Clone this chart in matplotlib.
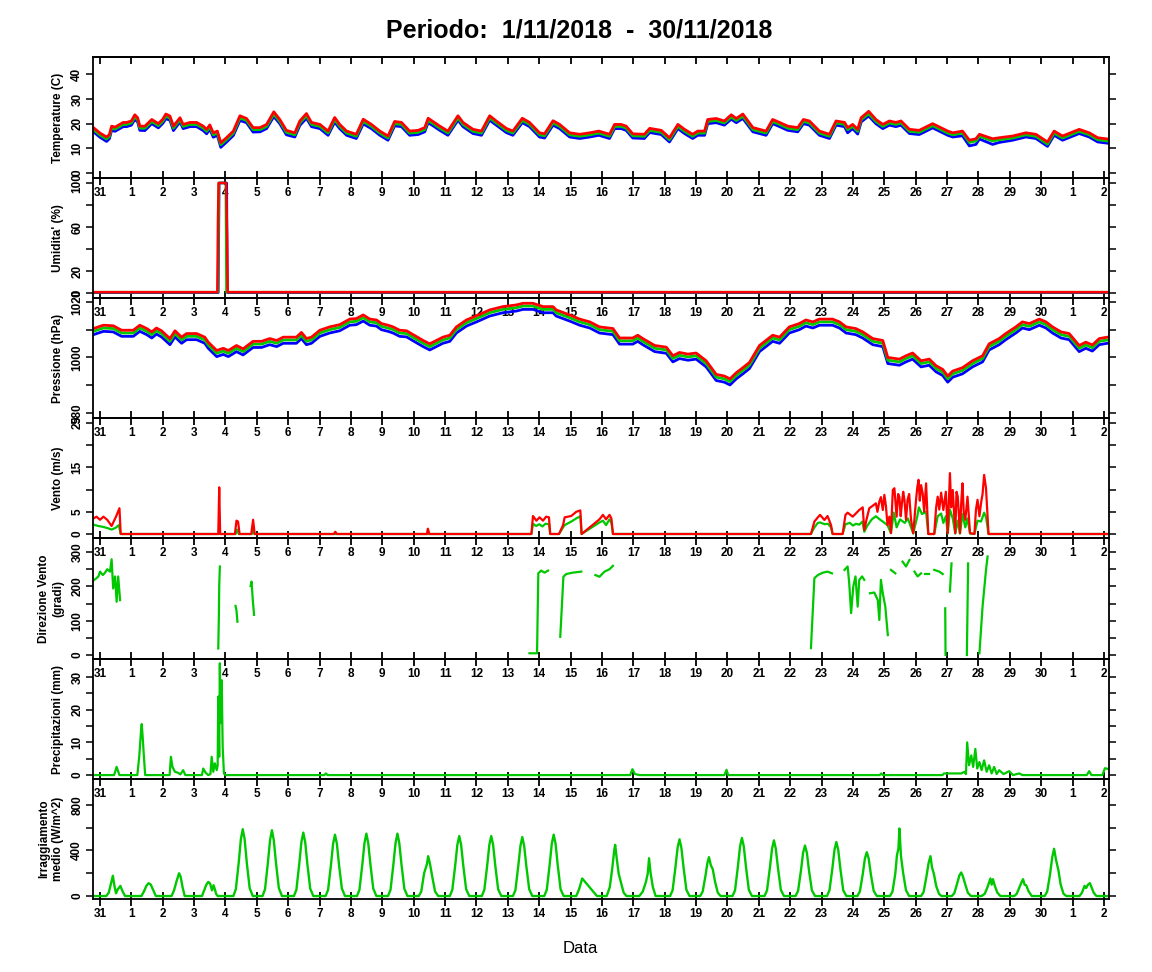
import numpy as np
import matplotlib
matplotlib.use("Agg")
import matplotlib.pyplot as plt
from matplotlib.ticker import FixedLocator

plt.rcParams['font.family'] = ['Liberation Sans', 'DejaVu Sans']
plt.rcParams['font.weight'] = 'bold'

# ---------------- data (time in days since 31/10/2018 00:00) ----------------
x_tick_pos = list(range(33))
x_tick_labels = ["31", "1", "2", "3", "4", "5", "6", "7", "8", "9", "10", "11", "12", "13",
                 "14", "15", "16", "17", "18", "19", "20", "21", "22", "23", "24", "25",
                 "26", "27", "28", "29", "30", "1", "2"]

t_temp = [-0.21, 0.0, 0.21, 0.30, 0.37, 0.48, 0.62, 0.74, 0.85, 1.0, 1.11, 1.2, 1.27, 1.43, 1.65,
          1.86, 2.0, 2.10, 2.23, 2.34, 2.55, 2.65, 2.87, 3.08, 3.29, 3.40, 3.50, 3.61, 3.74, 3.85,
          4.03, 4.25, 4.46, 4.67, 4.88, 5.10, 5.31, 5.54, 5.73, 5.94, 6.21, 6.37, 6.58, 6.74, 7.01,
          7.27, 7.48, 7.64, 7.86, 8.17, 8.39, 8.65, 8.92, 9.18, 9.39, 9.61, 9.87, 10.14, 10.35, 10.46,
          10.62, 10.83, 11.09, 11.41, 11.57, 11.89, 12.16, 12.42, 12.63, 12.95, 13.16, 13.46, 13.69,
          14.01, 14.17, 14.44, 14.65, 14.97, 15.29, 15.61, 15.90, 16.24, 16.40, 16.61, 16.77, 16.98,
          17.35, 17.52, 17.89, 18.15, 18.42, 18.63, 18.89, 19.05, 19.27, 19.37, 19.64, 19.90, 20.12,
          20.28, 20.49, 20.81, 21.23, 21.44, 21.66, 21.92, 22.24, 22.42, 22.61, 22.93, 23.25, 23.46,
          23.73, 23.83, 23.99, 24.15, 24.26, 24.50, 24.73, 24.95, 25.16, 25.37, 25.53, 25.80, 26.11,
          26.54, 26.80, 27.02, 27.18, 27.49, 27.71, 27.92, 28.03, 28.45, 28.66, 29.09, 29.51, 29.83,
          30.20, 30.41, 30.68, 31.21, 31.53, 31.80, 32.11]
temp_mean = [17.6, 15.4, 13.8, 14.8, 18.2, 17.8, 18.8, 19.7, 19.7, 20.3,
             22.7, 21.6, 18.2, 18.2, 20.9, 19.2, 21.0, 23.0, 22.3, 18.2,
             21.6, 18.9, 19.7, 19.7, 18.2, 16.9, 18.7, 15.5, 16.2, 11.5,
             13.5, 16.2, 22.3, 21.3, 17.6, 17.6, 18.9, 23.9, 20.9, 16.5,
             15.5, 20.3, 23.2, 19.7, 18.9, 16.2, 21.6, 18.9, 16.2, 14.9,
             20.9, 18.9, 16.2, 14.2, 20.0, 19.7, 16.2, 16.5, 17.6, 21.3,
             20.0, 18.2, 16.2, 22.3, 19.7, 16.9, 16.2, 22.3, 20.3, 17.3,
             16.2, 21.3, 19.7, 15.5, 15.1, 20.3, 18.9, 15.5, 14.9, 15.5,
             16.2, 14.9, 18.9, 18.9, 18.2, 15.1, 14.9, 17.3, 16.5, 13.5,
             18.9, 16.9, 14.9, 16.2, 16.2, 20.9, 21.3, 20.3, 22.7, 21.3,
             23.0, 17.6, 16.2, 20.9, 19.7, 18.2, 17.6, 20.9, 20.3, 16.2,
             14.9, 20.3, 19.7, 17.6, 18.9, 16.9, 21.6, 24.0, 20.9, 18.9,
             20.3, 19.7, 20.3, 16.9, 16.5, 19.2, 17.6, 16.2, 15.5, 16.2,
             12.4, 13.0, 14.9, 13.0, 13.5, 14.2, 15.5, 14.9, 11.7, 16.2,
             14.2, 16.9, 15.5, 13.5, 13.0]
temp_max = [18.4, 16.2, 14.6, 15.6, 19.0, 18.6, 19.6, 20.5, 20.5, 21.1,
            23.6, 22.4, 19.0, 19.0, 21.7, 20.0, 21.8, 23.9, 23.1, 19.0,
            22.4, 19.7, 20.5, 20.5, 19.0, 17.7, 19.5, 16.3, 17.0, 12.3,
            14.3, 17.0, 23.2, 22.1, 18.4, 18.4, 19.7, 24.8, 21.7, 17.3,
            16.3, 21.1, 24.1, 20.5, 19.7, 17.0, 22.5, 19.7, 17.0, 15.7,
            21.8, 19.7, 17.0, 15.0, 20.9, 20.5, 17.0, 17.3, 18.4, 22.2,
            20.8, 19.0, 17.0, 23.2, 20.5, 17.7, 17.0, 23.2, 21.1, 18.1,
            17.0, 22.2, 20.5, 16.3, 15.9, 21.2, 19.7, 16.3, 15.7, 16.3,
            17.0, 15.7, 19.7, 19.7, 19.0, 15.9, 15.7, 18.1, 17.3, 14.3,
            19.7, 17.7, 15.7, 17.0, 17.0, 21.7, 22.1, 21.1, 23.6, 22.1,
            23.9, 18.4, 17.0, 21.7, 20.5, 19.0, 18.4, 21.7, 21.1, 17.0,
            15.7, 21.1, 20.5, 18.4, 19.7, 17.7, 22.4, 25.0, 21.7, 19.7,
            21.1, 20.5, 21.1, 17.7, 17.3, 20.0, 18.4, 17.0, 16.3, 17.0,
            13.3, 13.9, 15.7, 13.9, 14.3, 15.0, 16.3, 15.7, 12.6, 17.0,
            15.0, 17.7, 16.3, 14.3, 13.8]
temp_min = [16.7, 14.5, 12.8, 13.9, 17.3, 16.9, 17.9, 18.8, 18.8, 19.4,
            21.7, 20.7, 17.3, 17.2, 20.0, 18.3, 20.1, 22.0, 21.4, 17.2,
            20.7, 18.0, 18.8, 18.8, 17.2, 15.9, 17.8, 14.5, 15.3, 10.4,
            12.5, 15.2, 21.3, 20.4, 16.6, 16.7, 18.0, 22.9, 20.0, 15.5,
            14.6, 19.3, 22.2, 18.8, 18.0, 15.3, 20.6, 18.0, 15.3, 14.0,
            19.9, 18.0, 15.3, 13.3, 19.1, 18.8, 15.3, 15.6, 16.7, 20.4,
            19.1, 17.3, 15.3, 21.4, 18.8, 16.0, 15.3, 21.4, 19.4, 16.4,
            15.3, 20.4, 18.8, 14.6, 14.2, 19.4, 18.0, 14.6, 14.0, 14.6,
            15.3, 14.0, 18.0, 18.0, 17.3, 14.2, 14.0, 16.4, 15.6, 12.6,
            18.0, 16.0, 14.0, 15.3, 15.3, 20.0, 20.4, 19.4, 21.8, 20.4,
            22.1, 16.7, 15.3, 20.0, 18.8, 17.3, 16.7, 20.0, 19.4, 15.3,
            14.0, 19.4, 18.8, 16.3, 18.0, 15.8, 20.7, 23.1, 20.0, 18.0,
            19.4, 18.8, 19.4, 16.0, 15.6, 18.3, 16.7, 15.3, 14.6, 15.1,
            11.0, 11.6, 13.8, 11.6, 12.4, 13.3, 14.6, 14.0, 10.8, 15.3,
            13.3, 16.0, 14.6, 12.6, 12.1]

hum_max = [(-0.21, 1), (3.74, 1), (3.76, 65), (3.78, 100), (4.02, 100), (4.05, 50), (4.07, 1), (32.16, 1)]
hum_mean = [(-0.21, 1), (3.76, 1), (3.79, 100), (4.01, 100), (4.03, 1), (32.16, 1)]
hum_min = [(-0.21, 0.5), (3.77, 0.5), (3.80, 100), (4.04, 100), (4.06, 0.5), (32.16, 0.5)]

t_pres = [-0.21, 0.11, 0.42, 0.69, 1.06, 1.27, 1.49, 1.65, 1.80, 1.96,
          2.23, 2.39, 2.60, 2.76, 3.08, 3.34, 3.45, 3.72, 3.93, 4.09,
          4.35, 4.56, 4.88, 5.15, 5.41, 5.63, 5.84, 6.26, 6.42, 6.58,
          6.74, 7.01, 7.32, 7.64, 7.96, 8.17, 8.39, 8.60, 8.81, 8.97,
          9.18, 9.34, 9.55, 9.77, 9.98, 10.30, 10.51, 10.72, 10.93, 11.15,
          11.36, 11.68, 12.00, 12.42, 12.84, 13.27, 13.48, 13.80, 14.12, 14.44,
          14.54, 14.97, 15.29, 15.61, 15.92, 16.35, 16.56, 16.98, 17.14, 17.30,
          17.68, 18.05, 18.26, 18.47, 18.74, 19.00, 19.32, 19.64, 19.90, 20.08,
          20.28, 20.49, 20.70, 21.02, 21.44, 21.66, 21.97, 22.29, 22.50, 22.72,
          22.93, 23.35, 23.57, 23.78, 24.09, 24.31, 24.63, 24.95, 25.11, 25.48,
          25.69, 25.90, 26.17, 26.43, 26.65, 26.86, 27.02, 27.18, 27.49, 27.81,
          28.13, 28.34, 28.66, 28.87, 29.19, 29.40, 29.62, 29.94, 30.15, 30.36,
          30.63, 30.89, 31.21, 31.42, 31.63, 31.85, 32.11]
pres_mean = [1009.4, 1010.6, 1010.4, 1008.8, 1008.8, 1010.6, 1009.4, 1008.2, 1009.6, 1008.6,
             1005.8, 1008.6, 1006.3, 1007.6, 1007.6, 1006.3, 1004.5, 1001.5, 1002.3, 1001.5,
             1003.3, 1002.1, 1004.8, 1004.8, 1005.8, 1005.1, 1006.3, 1006.3, 1008.0, 1005.8,
             1006.3, 1008.8, 1010.0, 1010.8, 1012.8, 1013.0, 1014.3, 1012.8, 1012.5, 1011.2,
             1010.6, 1010.0, 1008.8, 1008.6, 1007.2, 1005.1, 1003.9, 1005.1, 1006.3, 1007.0,
             1010.0, 1012.5, 1014.0, 1016.1, 1017.3, 1017.9, 1018.5, 1018.5, 1017.3, 1017.3,
             1016.1, 1014.3, 1012.8, 1011.8, 1010.0, 1009.4, 1006.0, 1006.0, 1007.0, 1005.8,
             1003.3, 1002.7, 999.6, 1000.8, 1000.2, 1000.6, 997.8, 992.9, 992.3, 991.3,
             993.5, 995.3, 997.2, 1003.3, 1007.0, 1006.3, 1010.0, 1011.2, 1012.5, 1011.8,
             1012.8, 1012.8, 1011.8, 1010.0, 1009.4, 1008.2, 1005.8, 1005.1, 999.0, 998.4,
             999.6, 1000.6, 997.8, 998.4, 996.0, 994.7, 992.3, 994.1, 995.3, 997.8,
             999.6, 1003.9, 1005.8, 1007.6, 1010.0, 1011.8, 1011.2, 1012.8, 1011.8, 1010.0,
             1008.2, 1007.6, 1003.3, 1004.5, 1003.5, 1005.8, 1006.3]
pres_max = [1010.4, 1011.6, 1011.4, 1009.8, 1009.8, 1011.6, 1010.4, 1009.2, 1010.6, 1009.6,
            1006.8, 1009.6, 1007.3, 1008.6, 1008.6, 1007.3, 1005.5, 1002.5, 1003.3, 1002.5,
            1004.3, 1003.1, 1005.8, 1005.8, 1006.8, 1006.1, 1007.3, 1007.3, 1009.0, 1006.8,
            1007.3, 1009.8, 1011.0, 1011.8, 1013.8, 1014.0, 1015.3, 1013.8, 1013.5, 1012.2,
            1011.6, 1011.0, 1009.8, 1009.6, 1008.2, 1006.1, 1004.9, 1006.1, 1007.3, 1008.0,
            1011.0, 1013.5, 1015.0, 1017.1, 1018.3, 1018.9, 1019.5, 1019.5, 1018.3, 1018.3,
            1017.1, 1015.3, 1013.8, 1012.8, 1011.0, 1010.4, 1007.0, 1007.0, 1008.0, 1006.8,
            1004.3, 1003.7, 1000.6, 1001.8, 1001.2, 1001.6, 998.8, 993.9, 993.3, 992.3,
            994.5, 996.3, 998.2, 1004.3, 1008.0, 1007.3, 1011.0, 1012.2, 1013.5, 1012.8,
            1013.8, 1013.8, 1012.8, 1011.0, 1010.4, 1009.2, 1006.8, 1006.1, 1000.0, 999.4,
            1000.6, 1001.6, 998.8, 999.4, 997.0, 995.7, 993.3, 995.1, 996.3, 998.8,
            1000.6, 1004.9, 1006.8, 1008.6, 1011.0, 1012.8, 1012.2, 1013.8, 1012.8, 1011.0,
            1009.2, 1008.6, 1004.3, 1005.5, 1004.5, 1006.8, 1007.3]
pres_min = [1008.2, 1009.4, 1009.2, 1007.6, 1007.6, 1009.4, 1008.2, 1007.0, 1008.4, 1007.4,
            1004.6, 1007.4, 1005.1, 1006.4, 1006.4, 1005.1, 1003.3, 1000.3, 1001.1, 1000.3,
            1002.1, 1000.9, 1003.6, 1003.6, 1004.6, 1003.9, 1005.1, 1005.1, 1006.8, 1004.6,
            1005.1, 1007.6, 1008.8, 1009.6, 1011.6, 1011.8, 1013.1, 1011.6, 1011.3, 1010.0,
            1009.4, 1008.8, 1007.6, 1007.4, 1006.0, 1003.9, 1002.7, 1003.9, 1005.1, 1005.8,
            1008.8, 1011.3, 1012.8, 1014.9, 1016.1, 1016.7, 1017.3, 1017.3, 1016.1, 1016.1,
            1014.9, 1013.1, 1011.6, 1010.6, 1008.8, 1008.2, 1004.8, 1004.8, 1005.8, 1004.6,
            1002.1, 1001.5, 998.4, 999.6, 999.0, 999.4, 996.6, 991.7, 991.1, 990.1,
            992.3, 994.1, 996.0, 1002.1, 1005.8, 1005.1, 1008.8, 1010.0, 1011.3, 1010.6,
            1011.6, 1011.6, 1010.6, 1008.8, 1008.2, 1007.0, 1004.6, 1003.9, 997.8, 997.2,
            998.4, 999.4, 996.6, 997.2, 994.8, 993.5, 991.1, 992.9, 994.1, 996.6,
            998.4, 1002.7, 1004.6, 1006.4, 1008.8, 1010.6, 1010.0, 1011.6, 1010.6, 1008.8,
            1007.0, 1006.4, 1002.1, 1003.3, 1002.3, 1004.6, 1005.1]

wind_max = [(-0.21, 3.5), (-0.11, 3.9), (0.0, 3.2), (0.11, 3.9), (0.23, 3.2), (0.37, 1.8), (0.51, 3.9),
            (0.62, 5.8), (0.66, 0), (3.77, 0), (3.80, 10.5), (3.83, 0), (4.30, 0), (4.35, 3.0), (4.40, 2.8),
            (4.45, 0), (4.82, 0), (4.88, 3.2), (4.93, 0), (7.45, 0), (7.50, 0.5), (7.55, 0), (10.42, 0),
            (10.45, 1.2), (10.50, 0), (13.75, 0), (13.80, 4.05), (13.91, 3.0), (14.01, 3.75), (14.12, 3.0),
            (14.22, 3.9), (14.31, 3.75), (14.35, 0), (14.63, 0), (14.76, 2.0), (14.81, 3.75), (15.02, 4.05),
            (15.18, 5.0), (15.31, 5.3), (15.35, 0), (15.92, 3.3), (16.03, 4.3), (16.13, 3.3), (16.24, 4.3),
            (16.30, 3.5), (16.35, 0), (22.66, 0), (22.77, 2.8), (22.88, 3.75), (22.95, 4.3), (23.09, 3.15),
            (23.19, 4.05), (23.30, 2.0), (23.35, 0), (23.67, 0), (23.76, 4.3), (23.83, 4.8), (23.99, 3.9),
            (24.10, 4.7), (24.20, 5.4), (24.31, 6.0), (24.36, 0.9), (24.43, 3.2), (24.52, 5.8), (24.62, 6.3),
            (24.73, 6.9), (24.78, 5.0), (24.84, 7.3), (24.89, 8.3), (24.95, 5.4), (25.00, 8.8), (25.05, 6.3),
            (25.10, 2.0), (25.16, 3.9), (25.21, 0.2), (25.27, 9.9), (25.32, 10.3), (25.39, 3.9), (25.44, 9.0),
            (25.48, 8.3), (25.52, 4.0), (25.56, 6.9), (25.60, 9.5), (25.64, 7.7), (25.69, 3.2), (25.74, 7.7),
            (25.79, 9.0), (25.85, 3.2), (25.92, 0.2), (26.01, 7.7), (26.05, 10.5), (26.09, 12.2), (26.13, 7.5),
            (26.17, 11.0), (26.22, 9.2), (26.27, 5.0), (26.33, 11.4), (26.40, 0), (26.59, 0), (26.65, 6.0),
            (26.70, 8.4), (26.75, 5.5), (26.81, 9.3), (26.88, 5.4), (26.96, 9.5), (27.02, 0.2), (27.06, 8.0),
            (27.09, 13.7), (27.13, 6.0), (27.18, 9.9), (27.22, 5.0), (27.26, 0.2), (27.30, 9.5), (27.34, 8.4),
            (27.41, 0.2), (27.45, 7.0), (27.49, 11.4), (27.53, 5.0), (27.58, 3.2), (27.65, 8.4), (27.73, 0.2),
            (27.87, 0), (27.92, 5.5), (27.97, 7.7), (28.03, 4.0), (28.08, 6.9), (28.13, 9.0), (28.18, 13.3),
            (28.24, 10.3), (28.32, 0), (32.16, 0)]
wind_mean = [(-0.21, 2.1), (-0.05, 1.8), (0.10, 1.6), (0.25, 1.3), (0.37, 1.0), (0.50, 1.4), (0.60, 2.0),
             (0.66, 0), (3.78, 0), (3.80, 1.0), (3.82, 0), (4.32, 0), (4.37, 1.0), (4.42, 0), (4.84, 0),
             (4.88, 1.6), (4.92, 0), (13.75, 0), (13.80, 2.3), (13.90, 1.8), (14.00, 2.2), (14.10, 1.7),
             (14.20, 2.3), (14.31, 2.2), (14.35, 0), (14.63, 0), (14.76, 1.5), (14.81, 2.0), (15.02, 2.8),
             (15.18, 3.5), (15.31, 4.0), (15.35, 0), (15.92, 2.6), (16.03, 3.0), (16.13, 2.0), (16.24, 3.3),
             (16.30, 2.5), (16.35, 0), (22.66, 0), (22.77, 1.5), (22.88, 2.5), (22.95, 2.6), (23.10, 2.2),
             (23.20, 2.3), (23.30, 1.5), (23.35, 0), (23.67, 0), (23.76, 2.2), (23.90, 2.5), (24.00, 1.9),
             (24.10, 2.3), (24.20, 2.1), (24.30, 2.8), (24.36, 0.5), (24.45, 1.8), (24.60, 3.3), (24.73, 4.0),
             (24.85, 3.3), (24.95, 2.8), (25.10, 2.0), (25.21, 0.2), (25.30, 4.8), (25.39, 1.5), (25.50, 3.3),
             (25.65, 2.5), (25.75, 3.5), (25.85, 1.5), (25.92, 0.1), (26.05, 4.0), (26.10, 6.0), (26.20, 4.5),
             (26.33, 5.0), (26.40, 0), (26.59, 0), (26.70, 4.0), (26.81, 4.6), (26.88, 2.5), (26.96, 4.0),
             (27.02, 0.1), (27.09, 5.5), (27.18, 3.5), (27.26, 0.1), (27.34, 3.0), (27.41, 0.1), (27.49, 4.5),
             (27.58, 1.5), (27.65, 3.5), (27.73, 0.1), (27.87, 0), (27.97, 3.0), (28.08, 2.8), (28.18, 4.8),
             (28.24, 3.8), (28.32, 0), (32.16, 0)]

dir_segments = [
    [(-0.21, 217), (-0.11, 224), (-0.05, 229), (0.0, 243), (0.09, 233), (0.16, 240), (0.23, 250),
     (0.32, 243), (0.37, 279), (0.42, 194), (0.48, 229), (0.53, 155), (0.58, 229), (0.64, 160)],
    [(3.77, 19), (3.79, 120), (3.80, 200), (3.82, 258)],
    [(4.32, 143), (4.35, 130), (4.38, 97)],
    [(4.80, 201), (4.83, 214), (4.87, 160), (4.91, 117)],
    [(13.69, 5), (13.93, 5), (13.97, 238), (14.06, 246), (14.17, 240), (14.28, 246)],
    [(14.67, 53), (14.77, 228), (14.86, 236), (15.07, 240), (15.34, 243)],
    [(15.79, 233), (15.92, 228), (16.08, 243), (16.24, 250), (16.35, 260)],
    [(22.66, 20), (22.77, 224), (22.88, 233), (23.04, 240), (23.19, 243), (23.33, 238)],
    [(23.73, 248), (23.83, 258), (23.88, 209), (23.94, 122), (24.01, 200), (24.08, 229), (24.15, 141),
     (24.20, 219), (24.29, 229), (24.36, 219)],
    [(24.54, 180), (24.68, 182), (24.79, 160), (24.84, 102), (24.89, 219), (24.95, 180), (25.03, 141),
     (25.11, 58)],
    [(25.21, 248), (25.35, 238)],
    [(25.58, 272), (25.69, 258), (25.80, 277)],
    [(25.96, 243), (26.06, 229), (26.17, 238)],
    [(26.31, 236), (26.41, 236)],
    [(26.59, 248), (26.75, 243), (26.86, 236)],
    [(26.94, 136), (26.95, 0)],
    [(27.09, 185), (27.14, 267)],
    [(27.63, 0), (27.67, 267)],
    [(28.03, 5), (28.13, 141), (28.24, 248), (28.29, 287)],
]

rain = [(-0.21, 0), (0.45, 0), (0.53, 2.5), (0.62, 0), (1.19, 0), (1.25, 5.6), (1.31, 13.8), (1.33, 15.6),
        (1.36, 11.7), (1.40, 5.6), (1.44, 0), (2.22, 0), (2.26, 5.6), (2.31, 2.5), (2.39, 1.0), (2.49, 0.7),
        (2.56, 0.2), (2.65, 1.5), (2.72, 0), (3.25, 0), (3.29, 2.0), (3.37, 0.7), (3.45, 0), (3.52, 0.3),
        (3.56, 5.6), (3.61, 1.0), (3.66, 3.6), (3.72, 1.5), (3.75, 3.0), (3.77, 24.0), (3.80, 5.6),
        (3.82, 34.2), (3.84, 15.9), (3.88, 29.0), (3.91, 8.7), (3.95, 0.5), (4.00, 0), (7.15, 0), (7.20, 0.5),
        (7.25, 0), (16.90, 0), (16.97, 1.8), (17.05, 0.3), (17.20, 0), (19.90, 0), (19.97, 1.6), (20.02, 0),
        (24.85, 0), (24.90, 0.5), (24.95, 0), (26.85, 0), (26.90, 0.5), (27.45, 0.5), (27.55, 1.0),
        (27.60, 0.3), (27.64, 10.0), (27.70, 3.0), (27.77, 6.0), (27.83, 2.5), (27.90, 8.0), (27.96, 2.0),
        (28.03, 4.0), (28.10, 1.5), (28.18, 4.5), (28.26, 1.0), (28.34, 3.0), (28.42, 0.5), (28.50, 2.5),
        (28.58, 0.3), (28.66, 1.5), (28.80, 0.3), (28.98, 1.2), (29.10, 0), (29.30, 0.5), (29.40, 0),
        (31.45, 0), (31.53, 1.2), (31.60, 0), (31.95, 0), (32.03, 2.1), (32.16, 1.8)]

irr = [(-0.21, 0), (0.20, 0), (0.28, 30), (0.35, 110), (0.41, 178), (0.46, 90), (0.51, 24), (0.57, 60),
       (0.65, 89), (0.72, 40), (0.80, 0),
       (1.32, 0), (1.40, 40), (1.48, 90), (1.55, 113), (1.62, 100), (1.70, 50), (1.78, 0),
       (2.28, 0), (2.36, 50), (2.44, 130), (2.52, 200), (2.57, 170), (2.63, 80), (2.70, 0),
       (3.25, 0), (3.32, 50), (3.39, 100), (3.45, 124), (3.51, 110), (3.57, 50), (3.62, 95), (3.66, 60),
       (3.70, 20), (3.75, 0),
       (4.25, 0), (4.33, 60), (4.42, 290), (4.49, 500), (4.55, 587), (4.61, 500), (4.68, 290), (4.77, 70), (4.87, 0),
       (5.18, 0), (5.26, 60), (5.35, 290), (5.42, 490), (5.48, 578), (5.54, 490), (5.61, 290), (5.70, 70), (5.80, 0),
       (6.18, 0), (6.26, 55), (6.35, 280), (6.42, 475), (6.48, 557), (6.54, 475), (6.61, 280), (6.70, 65), (6.80, 0),
       (7.19, 0), (7.27, 55), (7.36, 270), (7.43, 460), (7.49, 539), (7.55, 460), (7.62, 270), (7.71, 65), (7.81, 0),
       (8.19, 0), (8.27, 55), (8.36, 275), (8.43, 465), (8.49, 548), (8.55, 465), (8.62, 275), (8.71, 65), (8.81, 0),
       (9.18, 0), (9.26, 55), (9.35, 275), (9.42, 465), (9.48, 548), (9.54, 465), (9.61, 275), (9.70, 65), (9.80, 0),
       (10.16, 0), (10.24, 40), (10.33, 200), (10.38, 243), (10.42, 280), (10.46, 350), (10.52, 280), (10.59, 170),
       (10.68, 40), (10.78, 0),
       (11.15, 0), (11.23, 55), (11.32, 265), (11.39, 450), (11.45, 527), (11.51, 450), (11.58, 265), (11.67, 60), (11.77, 0),
       (12.17, 0), (12.25, 55), (12.34, 265), (12.41, 450), (12.47, 527), (12.53, 450), (12.60, 265), (12.69, 60), (12.79, 0),
       (13.16, 0), (13.24, 50), (13.33, 260), (13.40, 440), (13.46, 518), (13.52, 440), (13.59, 260), (13.68, 60), (13.78, 0),
       (14.16, 0), (14.24, 55), (14.33, 270), (14.40, 460), (14.46, 539), (14.52, 460), (14.59, 270), (14.68, 60), (14.78, 0),
       (15.18, 0), (15.27, 60), (15.37, 154), (15.84, 0),
       (16.15, 0), (16.25, 80), (16.33, 250), (16.39, 400), (16.42, 450), (16.47, 330), (16.53, 200), (16.61, 113),
       (16.69, 30), (16.78, 0),
       (17.19, 0), (17.30, 40), (17.40, 124), (17.46, 200), (17.50, 332), (17.55, 200), (17.62, 80), (17.71, 0),
       (18.17, 0), (18.25, 50), (18.34, 250), (18.41, 425), (18.47, 498), (18.53, 425), (18.60, 250), (18.69, 55), (18.79, 0),
       (19.13, 0), (19.21, 40), (19.30, 180), (19.36, 290), (19.41, 341), (19.47, 270), (19.53, 237), (19.60, 130),
       (19.69, 30), (19.78, 0),
       (20.16, 0), (20.24, 50), (20.33, 255), (20.40, 435), (20.46, 510), (20.52, 435), (20.59, 255), (20.68, 55), (20.78, 0),
       (21.18, 0), (21.26, 50), (21.35, 245), (21.42, 415), (21.48, 489), (21.54, 415), (21.61, 245), (21.70, 55), (21.80, 0),
       (22.17, 0), (22.25, 45), (22.34, 220), (22.41, 380), (22.47, 444), (22.53, 380), (22.60, 220), (22.69, 50), (22.79, 0),
       (23.17, 0), (23.25, 50), (23.34, 235), (23.41, 405), (23.47, 474), (23.53, 405), (23.60, 235), (23.69, 50), (23.79, 0),
       (24.14, 0), (24.22, 40), (24.31, 190), (24.38, 330), (24.44, 385), (24.50, 330), (24.57, 190), (24.66, 45), (24.76, 0),
       (25.18, 0), (25.26, 40), (25.35, 200), (25.40, 355), (25.45, 420), (25.48, 593), (25.53, 350), (25.60, 200),
       (25.69, 50), (25.79, 0),
       (26.17, 0), (26.25, 35), (26.34, 170), (26.41, 290), (26.47, 350), (26.52, 250), (26.58, 193), (26.65, 90),
       (26.74, 20), (26.82, 0),
       (27.15, 0), (27.23, 25), (27.32, 110), (27.39, 180), (27.45, 207), (27.50, 175), (27.57, 110), (27.66, 30), (27.76, 0),
       (28.10, 0), (28.20, 20), (28.29, 80), (28.34, 120), (28.38, 154), (28.42, 100), (28.46, 148), (28.52, 90),
       (28.60, 30), (28.70, 0),
       (29.14, 0), (29.22, 20), (29.31, 80), (29.37, 120), (29.42, 148), (29.47, 100), (29.52, 95), (29.60, 40), (29.70, 0),
       (30.11, 0), (30.19, 40), (30.28, 190), (30.35, 340), (30.41, 415), (30.47, 320), (30.55, 222), (30.62, 100),
       (30.71, 20), (30.80, 0),
       (31.22, 0), (31.30, 30), (31.38, 89), (31.43, 70), (31.49, 100), (31.55, 113), (31.60, 80), (31.67, 30), (31.76, 0),
       (32.16, 0)]

# ---------------- layout ----------------
W, H = 1152, 972
LEFT, RIGHT = 93, 1109
edges = [57, 178, 298, 418, 538, 659, 779, 899]
BLUE, GREEN, RED = '#0000FF', '#00C800', '#FF0000'
FS = 8.5

fig = plt.figure(figsize=(W / 100, H / 100), dpi=100)
axes = []
for i in range(7):
    top, bot = edges[i], edges[i + 1]
    ax = fig.add_axes([LEFT / W, 1 - bot / H, (RIGHT - LEFT) / W, (bot - top) / H])
    ax.set_facecolor('none')
    ax.set_xlim(-0.223, 32.16)
    for s in ax.spines.values():
        s.set_linewidth(1.3)
    ax.set_xticks(x_tick_pos)
    ax.set_xticklabels(x_tick_labels, fontsize=FS, fontweight='bold')
    ax.tick_params(axis='x', direction='inout', length=10, width=1.3, pad=1.5, top=False)
    ax.tick_params(axis='y', direction='out', length=5, width=1.1, right=True, labelright=False,
                   labelsize=FS, labelrotation=90, pad=2)
    axes.append(ax)

def yaxis(ax, lim, ticks, labels):
    ax.set_ylim(*lim)
    ax.yaxis.set_major_locator(FixedLocator(ticks))
    ax.set_yticklabels(labels, fontweight='bold')
    for lb in ax.get_yticklabels():
        lb.set_va('center')

def unzip(pairs):
    return [p[0] for p in pairs], [p[1] for p in pairs]

# Temperature
ax = axes[0]
yaxis(ax, (-2.0, 47.0), [0, 10, 20, 30, 40], ['0', '10', '20', '30', '40'])
ax.plot(t_temp, temp_min, color=BLUE, lw=2.0)
ax.plot(t_temp, temp_mean, color=GREEN, lw=2.0)
ax.plot(t_temp, temp_max, color=RED, lw=2.0)
top_ax = ax.secondary_xaxis('top')
top_ax.set_xticks(x_tick_pos)
top_ax.set_xticklabels([])
top_ax.tick_params(direction='in', length=5, width=1.3)
top_ax.spines['top'].set_linewidth(1.3)

# Humidity
ax = axes[1]
yaxis(ax, (-4.3, 104.5), [0, 20, 40, 60, 80, 100], ['0', '20', '', '60', '', '100'])
for pairs, c in ((hum_min, BLUE), (hum_mean, GREEN), (hum_max, RED)):
    tt, vv = unzip(pairs)
    ax.plot(tt, vv, color=c, lw=1.8)

# Pressure
ax = axes[2]
yaxis(ax, (978.2, 1021.4), [980, 990, 1000, 1010, 1020], ['980', '', '1000', '', '1020'])
ax.plot(t_pres, pres_min, color=BLUE, lw=2.0)
ax.plot(t_pres, pres_mean, color=GREEN, lw=2.0)
ax.plot(t_pres, pres_max, color=RED, lw=2.0)

# Wind
ax = axes[3]
yaxis(ax, (-0.9, 26.1), [0, 5, 10, 15, 20, 25], ['0', '5', '', '15', '', '25'])
tt, vv = unzip(wind_mean)
ax.plot(tt, vv, color=GREEN, lw=1.6)
tt, vv = unzip(wind_max)
ax.plot(tt, vv, color=RED, lw=1.6)

# Wind direction
ax = axes[4]
yaxis(ax, (-11.7, 341), [0, 50, 100, 150, 200, 250, 300], ['0', '', '100', '', '200', '', '300'])
for seg in dir_segments:
    tt, vv = unzip(seg)
    ax.plot(tt, vv, color=GREEN, lw=1.6)

# Precipitation
ax = axes[5]
yaxis(ax, (-1.2, 35.5), [0, 5, 10, 15, 20, 25, 30], ['0', '', '10', '', '20', '', '30'])
tt, vv = unzip(rain)
ax.plot(tt, vv, color=GREEN, lw=1.6)

# Irradiance
ax = axes[6]
yaxis(ax, (-26, 1028), [0, 200, 400, 600, 800], ['0', '', '400', '', '800'])
tt, vv = unzip(irr)
ax.plot(tt, vv, color=GREEN, lw=1.7)

# y labels
ylabels = ["Temperature (C)", "Umidita' (%)", "Pressione (hPa)", "Vento (m/s)",
           "Direzione Vento\n(gradi)", "Precipitazioni (mm)", "Irraggiamento\nmedio (W/m^2)"]
for i, lab in enumerate(ylabels):
    yc = (edges[i] + edges[i + 1]) / 2
    xc = 51 if '\n' in lab else 58
    fig.text(xc / W, 1 - yc / H, lab, rotation=90, ha='center', va='center',
             fontsize=FS, fontweight='bold', linespacing=1.2)

fig.text(579 / W, 1 - 30 / H, "Periodo:  1/11/2018  -  30/11/2018", ha='center', va='center',
         fontsize=18, fontweight='bold')
fig.text(580 / W, 1 - 948 / H, "Data", ha='center', va='center', fontsize=12, fontweight='normal')

fig.savefig("out.png", dpi=100)
